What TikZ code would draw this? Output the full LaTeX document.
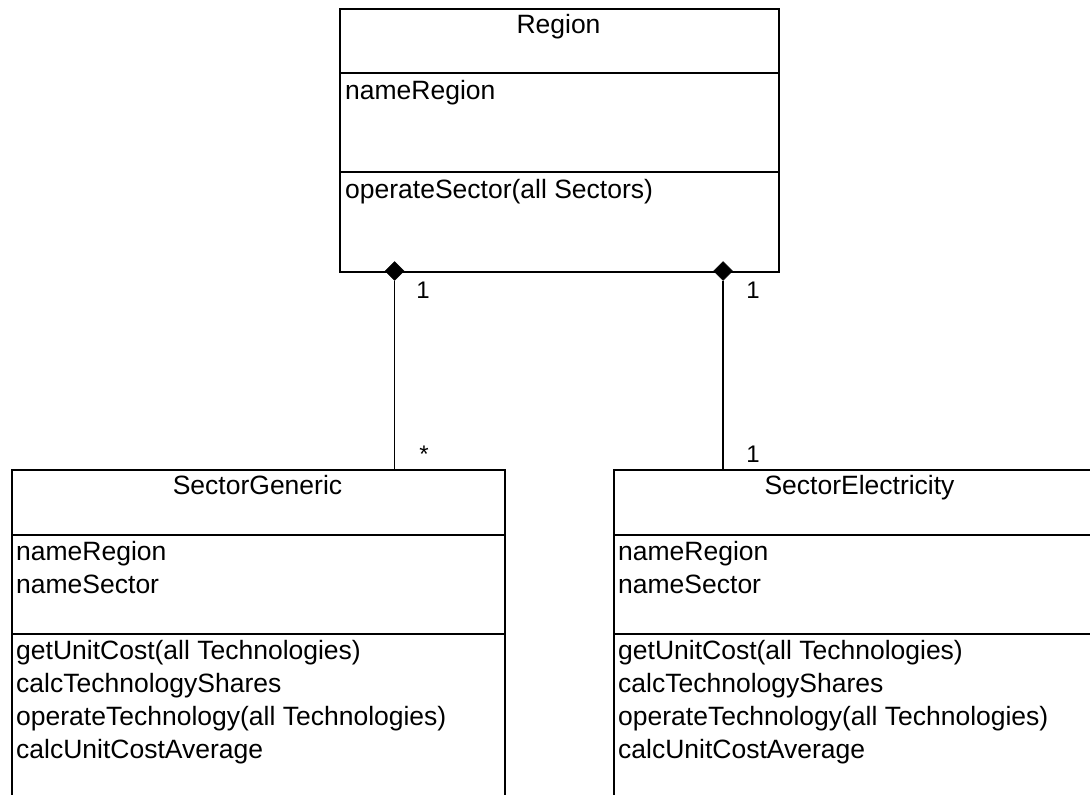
\documentclass[tikz,border=0pt]{standalone}
\usepackage{fontspec}
\setmainfont{Liberation Sans}
\usetikzlibrary{shapes.geometric}
\newcommand\umlfont{\fontsize{26.5}{33}\selectfont}
\newcommand\multfont{\fontsize{24}{30}\selectfont}
\tikzset{
  umlbox/.style={draw, line width=1.6pt, inner sep=0pt, anchor=north west},
  divider/.style={line width=1.6pt},
  classtitle/.style={anchor=base, inner sep=0pt, font=\umlfont},
  member/.style={anchor=base west, inner sep=0pt, font=\umlfont},
  mult/.style={anchor=base, inner sep=0pt, font=\multfont},
  composite/.style={diamond, fill=black, draw=black, inner sep=0pt,
    minimum width=19pt, minimum height=19pt, line width=0.5pt},
  link/.style={line width=1.6pt}
}
\begin{document}
\begin{tikzpicture}[x=1pt, y=-1pt]
  \useasboundingbox (0,0) rectangle (1090,795);
  \fill[white] (0,0) rectangle (1090,795);
  \clip (0,0) rectangle (1090,795);

  % Region class
  \node[umlbox, minimum width=439pt, minimum height=263pt] (region) at (339,8) {};
  \draw[divider] (339,73) -- (778,73);
  \draw[divider] (339,172) -- (778,172);
  \node[classtitle] (regionT) at (558.5,33) {Region};
  \node[member] (regionA1) at (345,99) {nameRegion};
  \node[member] (regionM1) at (345,198) {operateSector(all Sectors)};

  % SectorGeneric class
  \node[umlbox, minimum width=493pt, minimum height=340pt] (gen) at (11,469) {};
  \draw[divider] (11,535) -- (504,535);
  \draw[divider] (11,634) -- (504,634);
  \node[classtitle] (genT) at (257.5,494) {SectorGeneric};
  \node[member] (genA1) at (16,560) {nameRegion};
  \node[member] (genA2) at (16,593) {nameSector};
  \node[member] (genM1) at (16,659) {getUnitCost(all Technologies)};
  \node[member] (genM2) at (16,692) {calcTechnologyShares};
  \node[member] (genM3) at (16,725) {operateTechnology(all Technologies)};
  \node[member] (genM4) at (16,758) {calcUnitCostAverage};

  % SectorElectricity class
  \node[umlbox, minimum width=493pt, minimum height=340pt] (elec) at (613,469) {};
  \draw[divider] (613,535) -- (1106,535);
  \draw[divider] (613,634) -- (1106,634);
  \node[classtitle] (elecT) at (859.5,494) {SectorElectricity};
  \node[member] (elecA1) at (618,560) {nameRegion};
  \node[member] (elecA2) at (618,593) {nameSector};
  \node[member] (elecM1) at (618,659) {getUnitCost(all Technologies)};
  \node[member] (elecM2) at (618,692) {calcTechnologyShares};
  \node[member] (elecM3) at (618,725) {operateTechnology(all Technologies)};
  \node[member] (elecM4) at (618,758) {calcUnitCostAverage};

  % Composition links
  \node[composite] (dL) at (394.5,271) {};
  \node[composite] (dR) at (723,271) {};
  \draw[link] (dL.south) -- (dL.south |- gen.north);
  \draw[link] (dR.south) -- (dR.south |- elec.north);

  % Multiplicities
  \node[mult] (mL1) at (423,298) {1};
  \node[mult] (mL2) at (424,462) {*};
  \node[mult] (mR1) at (753,298) {1};
  \node[mult] (mR2) at (753,462) {1};
\end{tikzpicture}
\end{document}
